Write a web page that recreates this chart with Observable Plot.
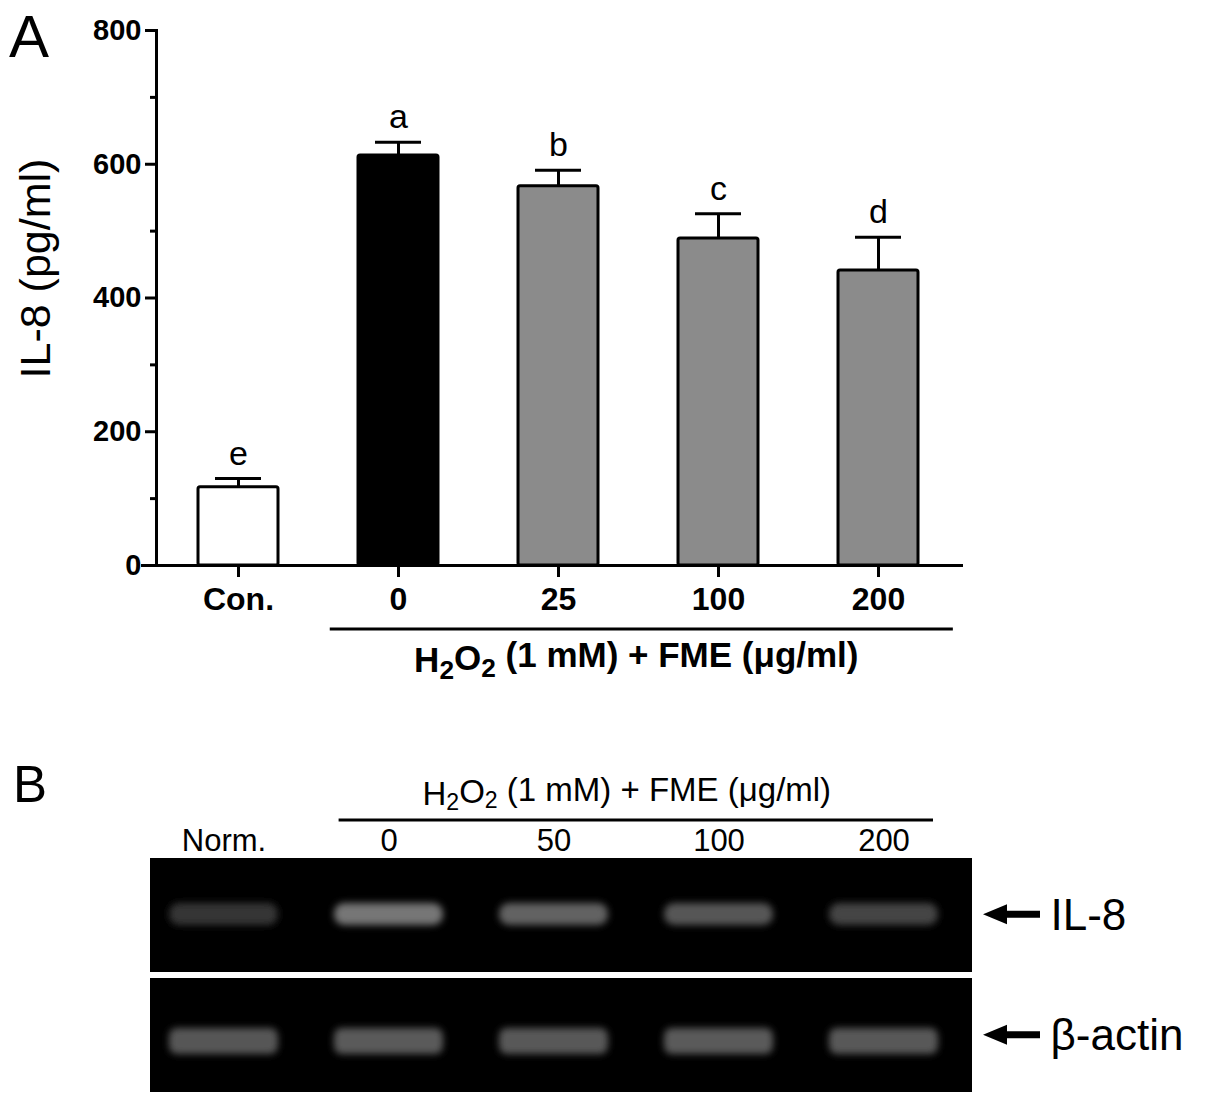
<!DOCTYPE html>
<html><head><meta charset="utf-8">
<script src="https://cdn.jsdelivr.net/npm/d3@7"></script>
<script src="https://cdn.jsdelivr.net/npm/@observablehq/plot@0.6"></script>
<style>
body{margin:0;background:#fff;}
#wrap{position:relative;width:1205px;height:1103px;overflow:hidden;background:#fff;}
#wrap svg{position:absolute;left:0;overflow:visible;}
</style></head><body><div id="wrap"></div>
<script>
// ---------- Panel A data ----------
const groups = ["Con.", "0", "25", "100", "200"];
const il8Mean = [117, 613, 567, 489, 441];
const il8Err = [13, 20, 24, 37, 50];
const letters = ["e", "a", "b", "c", "d"];
const yTicks = [0, 200, 400, 600, 800];
const yMinorTicks = [100, 300, 500, 700];
const yTitle = "IL-8 (pg/ml)";
// ---------- Panel B data ----------
const lanes = ["Norm.", "0", "50", "100", "200"];
const genes = ["IL-8", "β-actin"];
const il8Brightness = [52, 118, 98, 86, 68];
const actinBrightness = [86, 90, 88, 90, 88];

const FONT = '"Liberation Sans", Arial, Helvetica, sans-serif';
const wrap = document.getElementById("wrap");

// ================= Panel A =================
const dataA = groups.map((g, i) => ({group: g, value: il8Mean[i], err: il8Err[i], letter: letters[i]}));
const xRangeA = [156, 959];
const chartA = Plot.plot({
  width: 1205, height: 700,
  marginTop: 30, marginBottom: 135, marginLeft: 156, marginRight: 246,
  style: {fontFamily: FONT, color: "black", background: "transparent"},
  x: {type: "band", domain: groups, range: xRangeA, paddingInner: 0.5, paddingOuter: 0.25, axis: null},
  y: {domain: [0, 800], axis: null},
  marks: [
    Plot.barY(dataA, {x: "group", y: "value",
      fill: d => d.group === "Con." ? "white" : d.group === "0" ? "black" : "#8b8b8b",
      stroke: "black", strokeWidth: 3, rx: 2}),
    Plot.ruleX(dataA, {x: "group", y1: "value", y2: d => d.value + d.err, stroke: "black", strokeWidth: 3}),
    Plot.tickY(dataA, {x: "group", y: d => d.value + d.err, insetLeft: 17, insetRight: 17, stroke: "black", strokeWidth: 3}),
    Plot.text(dataA, {x: "group", y: d => d.value + d.err, text: "letter", dy: -14, lineAnchor: "bottom", fontSize: 34, fill: "black"}),
    Plot.axisY({ticks: yTicks, tickSize: 11, tickPadding: 4, fontSize: 29, fontWeight: "bold", strokeWidth: 3, label: null}),
    Plot.axisY({ticks: yMinorTicks, tickSize: 6, strokeWidth: 3, tickFormat: () => "", label: null}),
    Plot.axisX({tickSize: 12, tickPadding: 10, fontSize: 32, fontWeight: "bold", strokeWidth: 3, label: null}),
    Plot.frame({anchor: "left", strokeWidth: 3}),
    Plot.ruleY([0], {insetLeft: -15, insetRight: -4, strokeWidth: 3})
  ]
});
chartA.style.top = "0px";
wrap.appendChild(chartA);

{
  const svg = d3.select(chartA);
  const xs = d3.scaleBand().domain(groups).range(xRangeA).paddingInner(0.5).paddingOuter(0.25);
  const ys = d3.scaleLinear().domain([0, 800]).range([700 - 135, 30]);
  const g = svg.append("g").attr("font-family", FONT).attr("fill", "black");
  // panel letter
  g.append("text").attr("x", 9).attr("y", 57).attr("text-anchor", "start").attr("font-size", 60).text("A");
  // y title
  g.append("text").attr("transform", `translate(50,${(ys(0) + ys(800)) / 2 - 29}) rotate(-90)`)
    .attr("text-anchor", "middle").attr("font-size", 43).text(yTitle);
  // bracket
  const x1 = xs("0") - 27, x2 = xs("200") + xs.bandwidth() + 34, yb = ys(0) + 64;
  g.append("line").attr("x1", x1).attr("x2", x2).attr("y1", yb).attr("y2", yb)
    .attr("stroke", "black").attr("stroke-width", 3);
  const t = g.append("text").attr("x", (x1 + x2) / 2 - 5).attr("y", yb + 43)
    .attr("text-anchor", "middle").attr("font-size", 35).attr("font-weight", "bold");
  t.append("tspan").text("H");
  t.append("tspan").attr("font-size", "75%").attr("dy", "0.28em").text("2");
  t.append("tspan").attr("dy", "-0.28em").text("O");
  t.append("tspan").attr("font-size", "75%").attr("dy", "0.28em").text("2");
  t.append("tspan").attr("dy", "-0.28em").text(" (1 mM) + FME (μg/ml)");
}

// ================= Panel B =================
const il8Data = lanes.map((l, i) => ({lane: l, gene: "IL-8", v: il8Brightness[i]}));
const actinData = lanes.map((l, i) => ({lane: l, gene: "β-actin", v: actinBrightness[i]}));
const xRangeB = [139, 967];
const yRangeB = [157, 392];
const gray = v => d3.rgb(v, v, v).formatHex();
const chartB = Plot.plot({
  width: 1205, height: 403,
  marginTop: 157, marginBottom: 11, marginLeft: 150, marginRight: 233,
  style: {fontFamily: FONT, color: "black", background: "transparent"},
  x: {type: "band", domain: lanes, range: xRangeB, padding: 0, axis: null},
  y: {type: "band", domain: genes, range: yRangeB, paddingInner: 0.05, paddingOuter: 0, axis: null},
  marks: [
    Plot.cell(genes, {y: d => d, fill: "black"}),
    Plot.cell(il8Data, {x: "lane", y: "gene", fill: d => gray(d.v), insetLeft: 28, insetRight: 28, insetTop: 45, insetBottom: 47, rx: 10}),
    Plot.cell(actinData, {x: "lane", y: "gene", fill: d => gray(d.v), insetLeft: 28, insetRight: 28, insetTop: 50, insetBottom: 38, rx: 8}),
    Plot.axisX({anchor: "top", tickSize: 0, tickPadding: 7, fontSize: 31, label: null}),
    Plot.text(genes, {y: d => d, text: d => d, frameAnchor: "right", textAnchor: "start", dx: 78, fontSize: 44, fill: "black"})
  ]
});
chartB.style.top = "700px";
wrap.appendChild(chartB);

{
  const svg = d3.select(chartB);
  const defs = svg.append("defs");
  defs.append("filter").attr("id", "gelblur").attr("x", "-30%").attr("y", "-100%").attr("width", "160%").attr("height", "300%")
    .append("feGaussianBlur").attr("stdDeviation", 3.5);
  // blur every band (rects with a per-element fill)
  svg.selectAll("rect[fill]").filter(function() {
    const f = this.getAttribute("fill");
    return f && f !== "black" && f !== "#000000" && f !== "none";
  }).attr("filter", "url(#gelblur)");
  const xs = d3.scaleBand().domain(lanes).range(xRangeB).padding(0);
  const ys = d3.scaleBand().domain(genes).range(yRangeB).paddingInner(0.05).paddingOuter(0);
  const g = svg.append("g").attr("font-family", FONT).attr("fill", "black");
  g.append("text").attr("x", 13).attr("y", 102).attr("text-anchor", "start").attr("font-size", 51).text("B");
  // bracket
  const x1 = xs("0") + 34, x2 = xs("200") + xs.bandwidth() - 34, yb = 120;
  g.append("line").attr("x1", x1).attr("x2", x2).attr("y1", yb).attr("y2", yb)
    .attr("stroke", "black").attr("stroke-width", 3);
  const t = g.append("text").attr("x", (x1 + x2) / 2 - 9).attr("y", yb - 15)
    .attr("text-anchor", "middle").attr("font-size", 33);
  t.append("tspan").text("H");
  t.append("tspan").attr("font-size", "70%").attr("dy", "0.2em").text("2");
  t.append("tspan").attr("dy", "-0.2em").text("O");
  t.append("tspan").attr("font-size", "70%").attr("dy", "0.2em").text("2");
  t.append("tspan").attr("dy", "-0.2em").text(" (1 mM) + FME (μg/ml)");
  // arrows
  const right = 1205 - 233;
  genes.forEach(gn => {
    const cy = ys(gn) + ys.bandwidth() / 2;
    const tip = right + 11, back = right + 35, end = right + 68;
    g.append("path").attr("fill", "black")
      .attr("d", `M${tip},${cy} L${back},${cy - 10} L${back},${cy - 3.5} L${end},${cy - 3.5} L${end},${cy + 3.5} L${back},${cy + 3.5} L${back},${cy + 10} Z`);
  });
}
</script></body></html>
